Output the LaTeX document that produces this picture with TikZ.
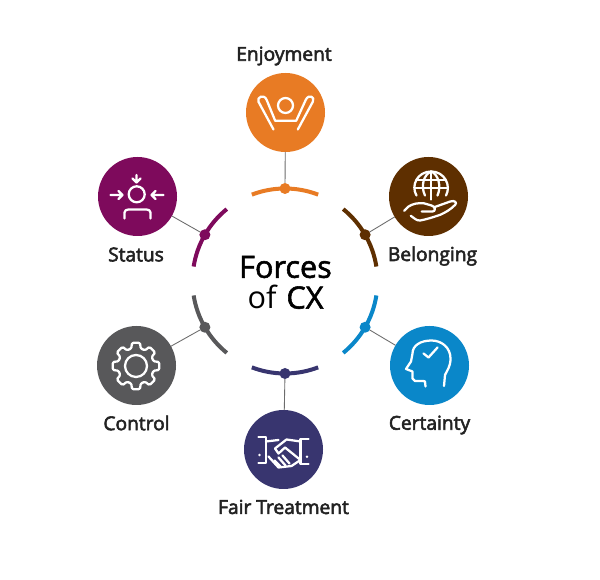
\documentclass[tikz,border=0pt]{standalone}
\usepackage{fontspec}
\setmainfont{Open Sans}
\newfontfamily\semib[FakeBold=2.8]{Open Sans}
\newfontfamily\medf[FakeBold=1.8]{Open Sans}
\definecolor{cEnjoy}{HTML}{E87B24}
\definecolor{cBelong}{HTML}{5E2F00}
\definecolor{cCert}{HTML}{0A87C9}
\definecolor{cFair}{HTML}{38356F}
\definecolor{cStatus}{HTML}{7E0A5C}
\definecolor{cCtrl}{HTML}{58585A}
\definecolor{cLabel}{HTML}{222222}
\tikzset{
  x=0.75pt,y=-0.75pt,
  badge/.style={circle,fill=#1,minimum size=59.25pt,inner sep=0pt,outer sep=0pt},
  hubdot/.style={circle,fill=#1,minimum size=8.25pt,inner sep=0pt,outer sep=0pt},
  spoke/.style={draw=gray!85!black,line width=0.65pt},
  rim/.style={draw=#1,line width=3pt},
  glyph/.style={draw=white,line width=1.7pt,line cap=round,line join=round},
  lbl/.style={text=cLabel,font=\semib\fontsize{14.4pt}{17pt}\selectfont,inner sep=0pt},
}
\begin{document}
\begin{tikzpicture}
\useasboundingbox (0,0) rectangle (600,580);
\fill[white] (0,0) rectangle (600,580);
\coordinate (hub) at (285,281);
% badges
\node[badge=cEnjoy]  (enjoy)  at (285.5,112.5) {};
\node[badge=cBelong] (belong) at (428.5,196.5) {};
\node[badge=cCert]   (cert)   at (429.5,365.5) {};
\node[badge=cFair]   (fair)   at (283.5,449.5) {};
\node[badge=cCtrl]   (ctrl)   at (136.5,365.5) {};
\node[badge=cStatus] (status) at (137.5,196.5) {};
% rims and dots
\foreach \nm/\ang/\col in {enjoy/-90/cEnjoy,belong/-30/cBelong,cert/30/cCert,fair/90/cFair,ctrl/150/cCtrl,status/210/cStatus}{
  \draw[rim=\col] ([shift={(\ang-21:92.5)}]hub) arc[start angle=\ang-21,end angle=\ang+21,radius=92.5];
  \node[hubdot=\col] (d\nm) at ([shift={(\ang:92.5)}]hub) {};
  \draw[spoke] (\nm) -- (d\nm);
}
% labels
\node[lbl] (lenjoy) at (284,56) {Enjoyment};
\node[lbl] (lbelong) at (432.5,256) {Belonging};
\node[lbl] (lcert) at (429.5,425) {Certainty};
\node[lbl] (lfair) at (283.5,507) {Fair Treatment};
\node[lbl] (lctrl) at (136.5,423) {Control};
\node[lbl] (lstatus) at (136,254.5) {Status};
\node[inner sep=0pt,text=black,font=\medf\fontsize{23pt}{27pt}\selectfont] (t1) at (285.5,267) {Forces};
\node[inner sep=0pt,text=black,font=\fontsize{23pt}{27pt}\selectfont] (t2) at (285.5,297) {of\hspace{1.5pt} {\medf CX}};
% Enjoyment icon
\begin{scope}[shift={(enjoy)}]
  \draw[glyph] (0,-7) circle[radius=7.5];
  \draw[glyph] (-12,17) -- (-27,-10.7) .. controls (-29,-15.5) and (-21.5,-19) .. (-18.8,-12.5) -- (-10.3,8.3) -- (10.7,8.3) -- (20.2,-12.5) .. controls (23,-19) and (30,-15.5) .. (27.3,-10.7) -- (12.3,17);
\end{scope}
% Belonging icon
\begin{scope}[shift={(belong)}]
  \draw[glyph] (-12,-1) .. controls (-18,-11) and (-11,-25) .. (2.7,-25) .. controls (16,-25) and (23,-11) .. (17.5,-1);
  \draw[glyph] (-3.5,-1) .. controls (-8,-10) and (-5,-22) .. (2.7,-25) .. controls (10,-22) and (13,-10) .. (9,-1);
  \draw[glyph] (2.7,-25) -- (2.7,3);
  \draw[glyph] (-11,-16.5) -- (16.5,-16.5);
  \draw[glyph] (-13,-8.5) -- (18.5,-8.5);
  \draw[glyph] (-24.3,14.3) .. controls (-21,11) and (-19,8.5) .. (-16.7,8.3) .. controls (-11,6) and (-7,7) .. (-5,6.7) -- (3,9) .. controls (7,10) and (7.5,15) .. (4,15) -- (-6.7,15);
  \draw[glyph] (5.7,10.7) -- (21.7,5) .. controls (26,3.5) and (29,6) .. (26.7,8.3) .. controls (22,13) and (17,16) .. (11.7,18.3) .. controls (4,21) and (-3,23) .. (-8.3,24) .. controls (-12,24.5) and (-15,21) .. (-17.7,19.3);
\end{scope}
% Certainty icon
\begin{scope}[shift={(cert)}]
  \draw[glyph] (14.5,20.5) -- (15.5,9.5) .. controls (18,4) and (21,1) .. (21,-7) .. controls (21,-18) and (12,-25) .. (2,-25) .. controls (-9,-25) and (-17,-20) .. (-17,-12) -- (-18.5,-4) -- (-23.5,3.5) -- (-17,6) -- (-17,13) -- (-14.5,15.5) -- (-6,15.5) -- (-4.5,16) -- (-4,21);
  \draw[glyph] (-6,-12) -- (-1,-8) -- (8,-18);
\end{scope}
% Fair Treatment icon
\begin{scope}[shift={(fair)}]
  \draw[glyph] (-25,-12.2) -- (-17.5,-12.2) -- (-17.5,13.8) -- (-25,13.8);
  \draw[glyph] (25,-10.5) -- (17,-10.5) -- (17,14.5) -- (25,14.5);
  \fill[white] (-24,5.5) circle[radius=1.4] (23.5,7.2) circle[radius=1.4];
  \draw[glyph] (-17.5,-8) -- (-5,-9.5) (17,-8) -- (3,-10) -- (-8.5,-1) -- (-5,4) -- (1.5,-2) -- (17,10.5);
  \draw[glyph] (-15,7) -- (-5,18) -- (8,16.5) -- (17,10.5);
  \draw[glyph] (-9,11) -- (-3,17) (-5,8) -- (2,16) (-1,6) -- (6,14);
\end{scope}
% Control icon
\begin{scope}[shift={(ctrl)}]
  \draw[glyph] (-0.5,0.5) circle[radius=11];
  \foreach \a in {0,45,...,315}{
    \draw[glyph,rounded corners=1pt] ([shift={(\a-22.5:18)}]-0.5,0.5) -- ([shift={(\a-15:18)}]-0.5,0.5) -- ([shift={(\a-10:23.5)}]-0.5,0.5) -- ([shift={(\a+10:23.5)}]-0.5,0.5) -- ([shift={(\a+15:18)}]-0.5,0.5) -- ([shift={(\a+22.5:18)}]-0.5,0.5);
  }
\end{scope}
% Status icon
\begin{scope}[shift={(status)}]
  \draw[glyph] (-0.8,-2.2) circle[radius=8];
  \draw[glyph] (-13,22) -- (-13,16) .. controls (-13,14) and (-11,13) .. (-9,13) -- (9,13) .. controls (11,13) and (13,14) .. (13,16) -- (13,22);
  \draw[glyph] (-1,-21.5) -- (-1,-14) (-5,-18) -- (-1,-14) -- (3,-18);
  \draw[glyph] (-27,-1.5) -- (-15,-1.5) (-19,-5.5) -- (-15,-1.5) -- (-19,2.5);
  \draw[glyph] (26,-1.5) -- (14,-1.5) (18,-5.5) -- (14,-1.5) -- (18,2.5);
\end{scope}
\end{tikzpicture}
\end{document}
